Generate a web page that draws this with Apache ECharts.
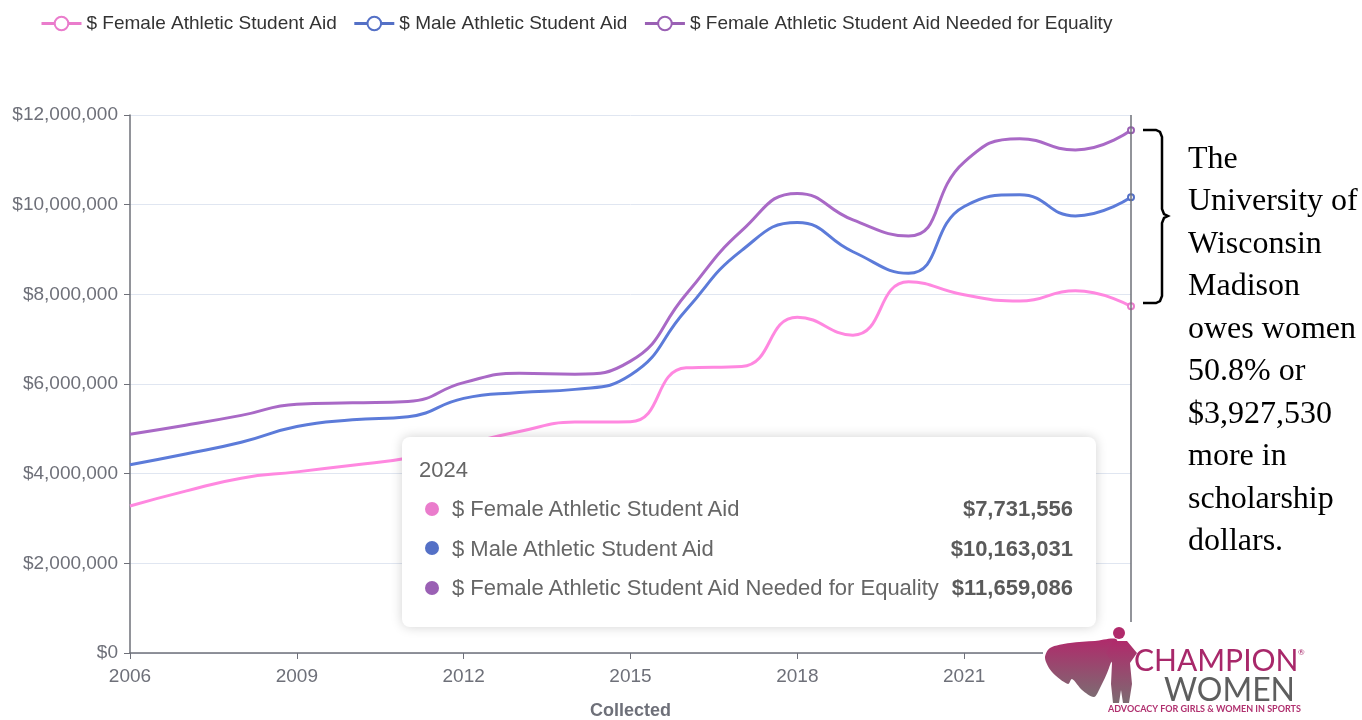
<!DOCTYPE html>
<html>
<head>
<meta charset="utf-8">
<script src="https://cdn.jsdelivr.net/npm/echarts@6/dist/echarts.min.js"></script>
<style>
  html, body { margin: 0; padding: 0; background: #fff; }
  #chart { width: 1362px; height: 720px; }
</style>
</head>
<body>
<div id="chart"></div>
<script>
// data
const years = ['2006', '2007', '2008', '2009', '2010', '2011', '2012', '2013', '2014', '2015',
  '2016', '2017', '2018', '2019', '2020', '2021', '2022', '2023', '2024']
const femaleAid = [3280000, 3610000, 3900000, 4040000, 4190000, 4350000, 4650000, 4940000, 5150000, 5160000,
  6360000, 6390000, 7490000, 7090000, 8280000, 7990000, 7850000, 8080000, 7731556]
const maleAid = [4200000, 4440000, 4700000, 5050000, 5200000, 5270000, 5680000, 5810000, 5880000, 6200000,
  7650000, 8980000, 9600000, 8950000, 8470000, 9960000, 10220000, 9750000, 10163031]
const equalityAid = [4880000, 5080000, 5300000, 5550000, 5580000, 5610000, 6030000, 6240000, 6220000, 6510000,
  8000000, 9420000, 10250000, 9660000, 9300000, 10950000, 11470000, 11220000, 11659086]
const seriesNames = ['$ Female Athletic Student Aid', '$ Male Athletic Student Aid', '$ Female Athletic Student Aid Needed for Equality']
const colors = ['#ea7ccc', '#5470c6', '#9a60b4']
const yMax = 12000000
const yStep = 2000000
const noteLines = ['The', 'University of', 'Wisconsin', 'Madison', 'owes women', '50.8% or', '$3,927,530', 'more in', 'scholarship', 'dollars.']

const money = v => '$' + Math.round(v).toLocaleString('en-US')

const myChart = echarts.init(document.getElementById('chart'))

function makeLine(name, data, color) {
  return {
    name: name,
    type: 'line',
    data: data,
    smooth: true,
    showSymbol: false,
    symbol: 'emptyCircle',
    symbolSize: 4,
    lineStyle: { width: 3, color: color },
    itemStyle: { color: color, borderWidth: 3 }
  }
}

const logoFill = {
  type: 'linear', x: 0, y: 0, x2: 0, y2: 1,
  colorStops: [{ offset: 0, color: '#b02a6b' }, { offset: 1, color: '#7d6b72' }]
}

const option = {
  animation: false,
  color: colors,
  textStyle: { fontFamily: 'Liberation Sans, Arial, sans-serif' },
  legend: {
    left: 35,
    top: 9,
    itemWidth: 40,
    itemHeight: 17,
    itemGap: 16,
    lineStyle: { width: 3 },
    itemStyle: { borderWidth: 3 },
    textStyle: { fontSize: 19, color: '#333' },
    data: seriesNames
  },
  grid: { left: 130, right: 231, top: 115, bottom: 67, containLabel: false, outerBoundsMode: 'none' },
  tooltip: {
    trigger: 'axis',
    triggerOn: 'none',
    alwaysShowContent: true,
    position: [402, 437],
    padding: 0,
    borderWidth: 0,
    backgroundColor: '#fff',
    extraCssText: 'width:694px;height:190px;box-sizing:border-box;padding:20px 23px 0 17px;border-radius:8px;box-shadow:0 0 12px rgba(0,0,0,0.18);',
    axisPointer: {
      type: 'line',
      lineStyle: { color: '#6e7079', width: 1.5, type: 'solid' },
      label: { show: false }
    },
    formatter: function (params) {
      let html = '<div style="font-family:Liberation Sans,Arial,sans-serif;font-size:22px;line-height:26px;color:#666;">' + params[0].axisValue + '</div>'
      html += '<div style="margin-top:6px;">'
      params.forEach(p => {
        html += '<div style="display:flex;align-items:center;height:39.5px;font-family:Liberation Sans,Arial,sans-serif;font-size:22px;color:#666;">'
          + '<span style="display:inline-block;width:14px;height:14px;border-radius:50%;background:' + p.color + ';margin:0 13px 0 6px;"></span>'
          + '<span style="flex:1;white-space:nowrap;">' + p.seriesName + '</span>'
          + '<span style="font-weight:bold;white-space:nowrap;color:#5a5a5a;">' + money(p.value) + '</span></div>'
      })
      html += '</div>'
      return html
    }
  },
  xAxis: {
    type: 'category',
    data: years,
    boundaryGap: false,
    name: 'Collected',
    nameLocation: 'middle',
    nameGap: 49,
    nameTextStyle: { fontSize: 18, fontWeight: 'bold', color: '#6e7079' },
    axisLine: { lineStyle: { color: '#6e7079', width: 1.5 } },
    axisTick: { interval: 2, length: 6, lineStyle: { color: '#6e7079' } },
    axisLabel: { interval: 2, fontSize: 19, color: '#6e7079', margin: 14 }
  },
  yAxis: {
    type: 'value',
    min: 0,
    max: yMax,
    interval: yStep,
    axisLine: { show: true, lineStyle: { color: '#6e7079', width: 1.5 } },
    axisTick: { show: true, length: 6, lineStyle: { color: '#6e7079' } },
    axisLabel: { fontSize: 19, color: '#6e7079', margin: 12, formatter: money },
    splitLine: { lineStyle: { color: '#E0E6F1' } }
  },
  series: [
    makeLine(seriesNames[0], femaleAid, colors[0]),
    makeLine(seriesNames[1], maleAid, colors[1]),
    makeLine(seriesNames[2], equalityAid, colors[2])
  ],
  graphic: [
    // bracket next to the 2024 values
    {
      type: 'polyline',
      z: 100,
      shape: {
        points: [[1143, 130], [1156, 130], [1160, 132], [1162, 137], [1162, 209], [1164, 214], [1168, 216],
          [1164, 218], [1162, 223], [1162, 296], [1160, 301], [1156, 303], [1143, 303]]
      },
      style: { fill: 'none', stroke: '#000', lineWidth: 2.5 }
    },
    {
      type: 'text',
      z: 100,
      left: 1188,
      top: 138,
      style: {
        text: noteLines.join('\n'),
        fontFamily: 'Liberation Serif, Times New Roman, serif',
        fontSize: 32,
        lineHeight: 42.5,
        fill: '#000'
      }
    },
    // logo block
    {
      type: 'rect',
      z: 100,
      shape: { x: 1043, y: 622, width: 319, height: 98 },
      style: { fill: '#fff' }
    },
    {
      type: 'polygon',
      z: 101,
      shape: {
        smooth: 0.3,
        points: [[1117, 640], [1095, 641], [1070, 643], [1050, 648], [1045, 658], [1052, 672], [1068, 684],
          [1072, 679], [1082, 690], [1094, 697], [1100, 688], [1109, 668]]
      },
      style: { fill: logoFill }
    },
    {
      type: 'polygon',
      z: 101,
      shape: {
        points: [[1113, 641], [1127, 641], [1137, 653], [1130, 663], [1132, 684], [1129, 703], [1123, 703],
          [1121, 690], [1119, 703], [1113, 703], [1111, 684], [1112, 663], [1106, 653]]
      },
      style: { fill: logoFill }
    },
    {
      type: 'circle',
      z: 101,
      shape: { cx: 1119, cy: 633, r: 6 },
      style: { fill: '#b02a6b' }
    },
    {
      type: 'text',
      z: 101,
      left: 1134,
      top: 646,
      style: { text: 'CHAMPION', fontFamily: 'Lato, Noto Sans, sans-serif', fontSize: 30, fill: '#a8286a' }
    },
    {
      type: 'text',
      z: 101,
      left: 1298,
      top: 648,
      style: { text: '®', fontFamily: 'Lato, sans-serif', fontSize: 8, fill: '#a8286a' }
    },
    {
      type: 'text',
      z: 101,
      left: 1164,
      top: 675,
      style: { text: 'WOMEN', fontFamily: 'Lato, Noto Sans, sans-serif', fontSize: 32, fill: '#5e5e5e' }
    },
    {
      type: 'text',
      z: 101,
      left: 1108,
      top: 705,
      style: { text: 'ADVOCACY FOR GIRLS & WOMEN IN SPORTS', fontFamily: 'Lato, sans-serif', fontWeight: 'bold', fontSize: 9, fill: '#b0306f' }
    }
  ]
}

myChart.setOption(option)

function showLast() {
  myChart.dispatchAction({ type: 'showTip', seriesIndex: 0, dataIndex: years.length - 1 })
}
showLast()
setTimeout(showLast, 50)
</script>
</body>
</html>
